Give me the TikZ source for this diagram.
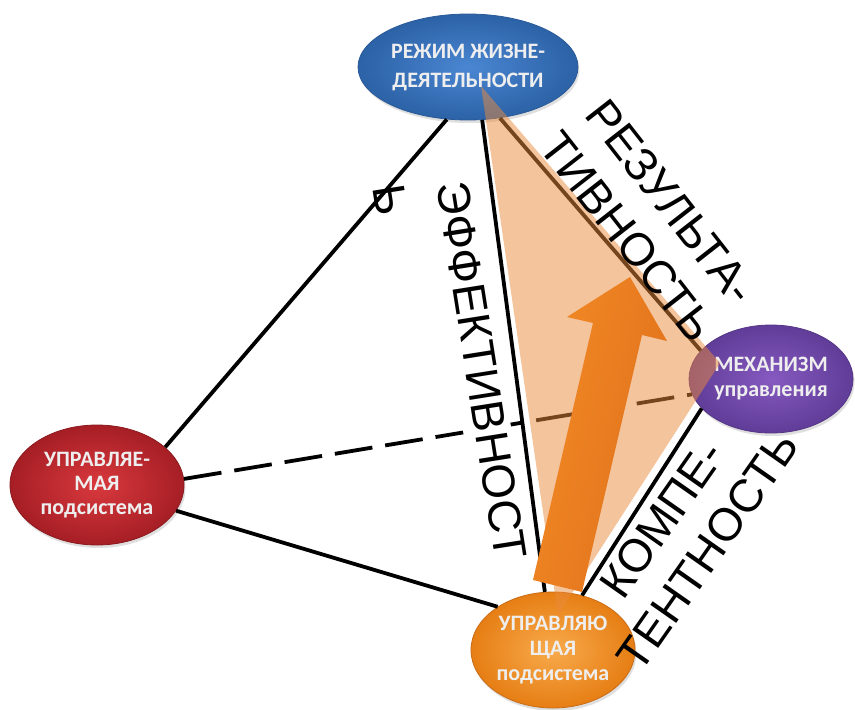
\documentclass[tikz,border=0pt]{standalone}
\usepackage{fontspec}
\setmainfont{Liberation Sans}
\newfontfamily\carl{Carlito}
\usetikzlibrary{shapes.geometric,shadows,calc}
\definecolor{blueIn}{HTML}{4A86D2}
\definecolor{blueOut}{HTML}{2C62A6}
\definecolor{blueEdge}{HTML}{2A5A98}
\definecolor{redIn}{HTML}{D8393D}
\definecolor{redOut}{HTML}{A61E25}
\definecolor{redEdge}{HTML}{8A1A1E}
\definecolor{purIn}{HTML}{8659C0}
\definecolor{purOut}{HTML}{603D98}
\definecolor{purEdge}{HTML}{553585}
\definecolor{orIn}{HTML}{F8AA4C}
\definecolor{orOut}{HTML}{E67E14}
\definecolor{orEdge}{HTML}{C86C16}
\definecolor{nodetext}{HTML}{EEEEEE}
\definecolor{peach}{HTML}{EA8A3C}
\definecolor{arrowL}{HTML}{F28A26}
\definecolor{arrowR}{HTML}{E0701A}
\begin{document}
\begin{tikzpicture}[x=1pt,y=-1pt,
  oval/.style={ellipse, inner sep=0pt, align=center, line width=0.8pt,
    text=nodetext, font=\carl\bfseries\fontsize{22}{25}\selectfont,
    drop shadow={opacity=0.25, shadow xshift=1.5pt, shadow yshift=-3pt}},
  edge/.style={line width=3.8pt, draw=black},
  dashededge/.style={edge, dash pattern=on 38pt off 13pt},
  biglabel/.style={font=\fontsize{46}{56}\selectfont, align=center, inner sep=0pt, text=black},
  tri/.style={fill=peach, fill opacity=0.5},
  blockarrow/.style={shading=axis, left color=arrowL, right color=arrowR, shading angle=77}
]
\useasboundingbox (0,0) rectangle (855,710);
\fill[white] (0,0) rectangle (855,710);

% nodes
\node[oval, minimum width=220pt, minimum height=106pt, inner color=blueIn, outer color=blueOut,
      draw=blueEdge, font=\carl\bfseries\fontsize{22}{29}\selectfont] (regime) at (468,67)
      {РЕЖИМ ЖИЗНЕ-\\ДЕЯТЕЛЬНОСТИ};
\node[oval, minimum width=174pt, minimum height=120pt, inner color=redIn, outer color=redOut,
      draw=redEdge, font=\carl\bfseries\fontsize{22}{24}\selectfont] (managed) at (97,485)
      {УПРАВЛЯЕ-\\МАЯ\\подсистема};
\node[oval, minimum width=164pt, minimum height=108pt, inner color=purIn, outer color=purOut,
      draw=purEdge] (mech) at (771,379)
      {МЕХАНИЗМ\\управления};
\node[oval, minimum width=164pt, minimum height=116pt, inner color=orIn, outer color=orOut,
      draw=orEdge] (ctrl) at (553,650)
      {УПРАВЛЯЮ\\ЩАЯ\\подсистема};

% connectors
\draw[edge] (regime.248) -- (managed.29);
\draw[edge] (regime.285) -- (ctrl.98);
\draw[edge] (regime.302) -- (mech.158);
\draw[dashededge] (managed.4) -- (mech.191);
\draw[edge] (managed.342) -- (ctrl.142);
\draw[edge] (ctrl.62) -- (mech.203);

% label with white box hiding the dashed line
\node[biglabel, rotate=-81, anchor=base, fill=white, text height=33pt, text depth=9pt, inner sep=3pt]
      (eff) at (466,373) {ЭФФЕКТИВНОСТ};

% shaded triangle
\coordinate (tA) at (481,86);
\coordinate (tB) at (720,363);
\coordinate (tC) at (558,615);
\fill[tri] (tA) -- (tB) -- (tC) -- cycle;

% block arrow
\coordinate (a1) at (533,580);
\coordinate (a2) at (582,592);
\coordinate (a3) at (642,335);
\coordinate (a4) at (667,341);
\coordinate (a5) at (630,277);
\coordinate (a6) at (567,317);
\coordinate (a7) at (593,323);
\shade[blockarrow] (a1) -- (a2) -- (a3) -- (a4) -- (a5) -- (a6) -- (a7) -- cycle;

% other labels
\node[biglabel, rotate=-81, text height=33pt, text depth=0pt] (effend) at (391,200) {Ь};
\node[biglabel, rotate=-52] (res) at (649,219) {РЕЗУЛЬТА-\\ТИВНОСТЬ};
\node[biglabel, rotate=55] (comp) at (685,535) {КОМПЕ-\\ТЕНТНОСТЬ};
\end{tikzpicture}
\end{document}
